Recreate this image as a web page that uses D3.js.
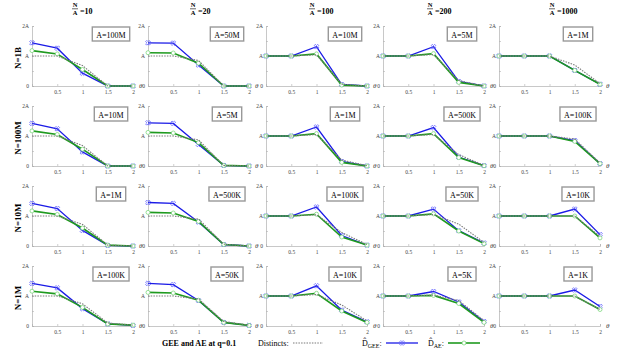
<!DOCTYPE html>
<html>
<head>
<meta charset="utf-8">
<script src="https://cdn.jsdelivr.net/npm/d3@7"></script>
<style>
  body { margin: 0; background: #fff; }
  svg { font-family: "Liberation Serif", "DejaVu Serif", serif; }
</style>
</head>
<body>
<div id="chart"></div>
<script>
// skew values on the x axis
const thetas = [0, 0.5, 1, 1.5, 2];
const colRatios = ['10', '20', '100', '200', '1000'];
const rowLabels = ['N=1B', 'N=100M', 'N=10M', 'N=1M'];
const aLabels = [
  ['A=100M', 'A=50M', 'A=10M', 'A=5M', 'A=1M'],
  ['A=10M', 'A=5M', 'A=1M', 'A=500K', 'A=100K'],
  ['A=1M', 'A=500K', 'A=100K', 'A=50K', 'A=10K'],
  ['A=100K', 'A=50K', 'A=10K', 'A=5K', 'A=1K']
];
const xTicks = [0.5, 1, 1.5, 2];
const yTickLabels = ['0', 'A', '2A'];

// values in units of A  [row][col][theta]
const distincts = [
  [[1,1,0.68,0,0], [1,1,0.85,0,0], [1,1,1.04,0.06,0], [1,1,1.05,0.18,0], [1,1,1,0.7,0.08]],
  [[1,1,0.68,0,0], [1,1,0.87,0.02,0], [1,1,1.05,0.2,0.01], [1,1,1.05,0.38,0.02], [1,1,1,0.9,0.1]],
  [[1,1,0.72,0.03,0], [1,1,0.9,0.06,0], [1,1,1.04,0.45,0.05], [1,1,1.05,0.73,0.12], [1,1,1,1,0.32]],
  [[1,1,0.74,0.1,0.03], [1,1,0.9,0.15,0.03], [1,1,1.05,0.7,0.17], [1,1,1.03,0.85,0.18], [1,1,1,1,0.55]]
];
const gee = [
  [[1.44,1.26,0.43,0,0], [1.44,1.43,0.7,0,0], [1,1,1.31,0.05,0], [1,1,1.31,0.15,0], [1,1,1,0.52,0.06]],
  [[1.42,1.24,0.47,0,0], [1.44,1.42,0.72,0.02,0], [1,1,1.3,0.15,0], [1,1,1.28,0.3,0.01], [1,1,1,0.85,0.08]],
  [[1.42,1.25,0.52,0.02,0], [1.45,1.42,0.8,0.05,0], [1,1,1.3,0.35,0.03], [1,1,1.23,0.51,0.1], [1,1,1,1.23,0.38]],
  [[1.42,1.27,0.58,0.07,0.02], [1.42,1.38,0.85,0.12,0.02], [1,1,1.34,0.53,0.14], [1,1,1.15,0.8,0.15], [1,1,1,1.2,0.65]]
];
const ae = [
  [[1.18,1.07,0.55,0,0], [1.11,1.1,0.76,0,0], [1,1,1.07,0.03,0], [1,1,1.08,0.12,0], [1,1,1,0.52,0.06]],
  [[1.17,1.05,0.56,0,0], [1.12,1.1,0.78,0.02,0], [1,1,1.08,0.12,0], [1,1,1.08,0.28,0.01], [1,1,1,0.82,0.08]],
  [[1.17,1.05,0.6,0.03,0], [1.12,1.1,0.82,0.05,0], [1,1,1.06,0.3,0.03], [1,1,1.07,0.5,0.08], [1,1,1,1,0.27]],
  [[1.16,1.07,0.62,0.07,0.03], [1.12,1.1,0.86,0.12,0.02], [1,1,1.09,0.5,0.12], [1,1,1.02,0.75,0.12], [1,1,1,1,0.55]]
];

const width = 619;
const height = 351;
const colX = [32, 148, 266, 383, 499];   // theta = 0 position of each column
const rowY = [86, 166, 246, 326];        // zero line of each row
const pw = 101;
const ph = 60;

const blue = '#1a1ae6';
const green = '#1f9a1f';
const gray = '#7a7a7a';

const svg = d3.select('#chart').append('svg')
  .attr('width', width)
  .attr('height', height);

// column headers  N/A = ..
const headX = [75, 193, 312, 430, 552];
colRatios.forEach((r, c) => {
  const h = svg.append('g').attr('transform', `translate(${headX[c]},0)`)
    .style('font-weight', 'bold');
  h.append('text').attr('x', 0).attr('y', 7).attr('text-anchor', 'middle')
    .style('font-size', '6.5px').text('N');
  h.append('line').attr('x1', -3).attr('x2', 3).attr('y1', 8.8).attr('y2', 8.8)
    .attr('stroke', '#000').attr('stroke-width', 0.6);
  h.append('text').attr('x', 0).attr('y', 14.8).attr('text-anchor', 'middle')
    .style('font-size', '6.5px').text('A');
  h.append('text').attr('x', 5).attr('y', 13.5)
    .style('font-size', '8px').text('=' + r);
});

const line = (x, y) => d3.line().x((d, i) => x(thetas[i])).y(d => y(d));

rowLabels.forEach((rl, r) => {
  svg.append('text')
    .attr('transform', `translate(21,${rowY[r] - 28}) rotate(-90)`)
    .attr('text-anchor', 'middle')
    .style('font-size', '9px').style('font-weight', 'bold')
    .text(rl);

  colX.forEach((cx, c) => {
    const x = d3.scaleLinear().domain([0, 2]).range([cx, cx + pw]);
    const y = d3.scaleLinear().domain([0, 2]).range([rowY[r], rowY[r] - ph]);
    const g = svg.append('g');

    // x axis
    const xa = g.append('g').attr('transform', `translate(0,${rowY[r]})`)
      .call(d3.axisBottom(x).tickValues(xTicks).tickSize(-2).tickPadding(4)
        .tickFormat(d3.format('')));
    // y axis
    const ya = g.append('g').attr('transform', `translate(${x(0)},0)`)
      .call(d3.axisLeft(y).tickValues([0, 0.5, 1, 1.5, 2]).tickSize(-2).tickPadding(3)
        .tickFormat(d => (d % 1 === 0 ? yTickLabels[d] : '')));
    [xa, ya].forEach(a => {
      a.select('.domain').attr('stroke', '#b0b0b0').attr('stroke-width', 0.7);
      a.selectAll('.tick line').attr('stroke', '#b0b0b0').attr('stroke-width', 0.6);
      a.selectAll('.tick text').attr('fill', '#444')
        .style('font-family', '"Liberation Serif", serif').style('font-size', '5.5px');
    });
    g.append('text').attr('x', x(2) + 6).attr('y', rowY[r] + 2)
      .style('font-size', '7px').style('font-style', 'italic').attr('fill', '#333')
      .text('θ');

    // series
    g.append('path').datum(gee[r][c]).attr('d', line(x, y))
      .attr('fill', 'none').attr('stroke', blue).attr('stroke-width', 1.3);
    g.selectAll('.gx').data(gee[r][c]).enter().append('path')
      .attr('d', d3.symbol(d3.symbolCross, 14)())
      .attr('transform', (d, i) => `translate(${x(thetas[i])},${y(d)}) rotate(45)`)
      .attr('fill', 'none').attr('stroke', '#5a5aff').attr('stroke-width', 0.7);
    g.append('path').datum(ae[r][c]).attr('d', line(x, y))
      .attr('fill', 'none').attr('stroke', green).attr('stroke-width', 1.6);
    g.selectAll('.ac').data(ae[r][c]).enter().append('circle')
      .attr('cx', (d, i) => x(thetas[i])).attr('cy', d => y(d)).attr('r', 2)
      .attr('fill', '#fff').attr('stroke', '#6fd46f').attr('stroke-width', 0.7);
    g.append('path').datum(distincts[r][c]).attr('d', line(x, y))
      .attr('fill', 'none').attr('stroke', gray).attr('stroke-width', 1.1)
      .attr('stroke-dasharray', '1.5,1.2');

    // A= box
    const bx = cx + 79;
    const by = rowY[r] - ph + 1;
    const box = g.append('g');
    const rect = box.append('rect')
      .attr('fill', '#fff').attr('stroke', '#999').attr('stroke-width', 1.4);
    const t = box.append('text').attr('x', bx).attr('y', by + 10.5)
      .attr('text-anchor', 'middle').style('font-size', '8px').text(aLabels[r][c]);
    const bw = t.node().getComputedTextLength() + 8;
    rect.attr('x', bx - bw / 2).attr('y', by).attr('width', bw).attr('height', 14);
  });
});

// legend
const lg = svg.append('g').style('font-size', '8px');
lg.append('text').attr('x', 162).attr('y', 346).style('font-weight', 'bold')
  .text('GEE and AE at q=0.1');
lg.append('text').attr('x', 258).attr('y', 346).text('Distincts:');
lg.append('line').attr('x1', 293).attr('x2', 323).attr('y1', 343).attr('y2', 343)
  .attr('stroke', gray).attr('stroke-width', 1.1).attr('stroke-dasharray', '1.5,1.2');

const dhat = (x0, sub) => {
  const t = lg.append('text').attr('x', x0).attr('y', 346);
  t.append('tspan').text('D̂');
  t.append('tspan').attr('dy', 1.5).style('font-size', '6px').text(sub);
  t.append('tspan').attr('dy', -1.5).text(':');
};
dhat(362, 'GEE');
lg.append('line').attr('x1', 386).attr('x2', 418).attr('y1', 343).attr('y2', 343)
  .attr('stroke', blue).attr('stroke-width', 1.3);
lg.append('path').attr('d', d3.symbol(d3.symbolCross, 14)())
  .attr('transform', 'translate(402,343) rotate(45)')
  .attr('fill', 'none').attr('stroke', '#5a5aff').attr('stroke-width', 0.7);
dhat(428, 'AE');
lg.append('line').attr('x1', 448).attr('x2', 480).attr('y1', 343).attr('y2', 343)
  .attr('stroke', green).attr('stroke-width', 1.6);
lg.append('circle').attr('cx', 464).attr('cy', 343).attr('r', 2)
  .attr('fill', '#fff').attr('stroke', '#6fd46f').attr('stroke-width', 0.7);
</script>
</body>
</html>
